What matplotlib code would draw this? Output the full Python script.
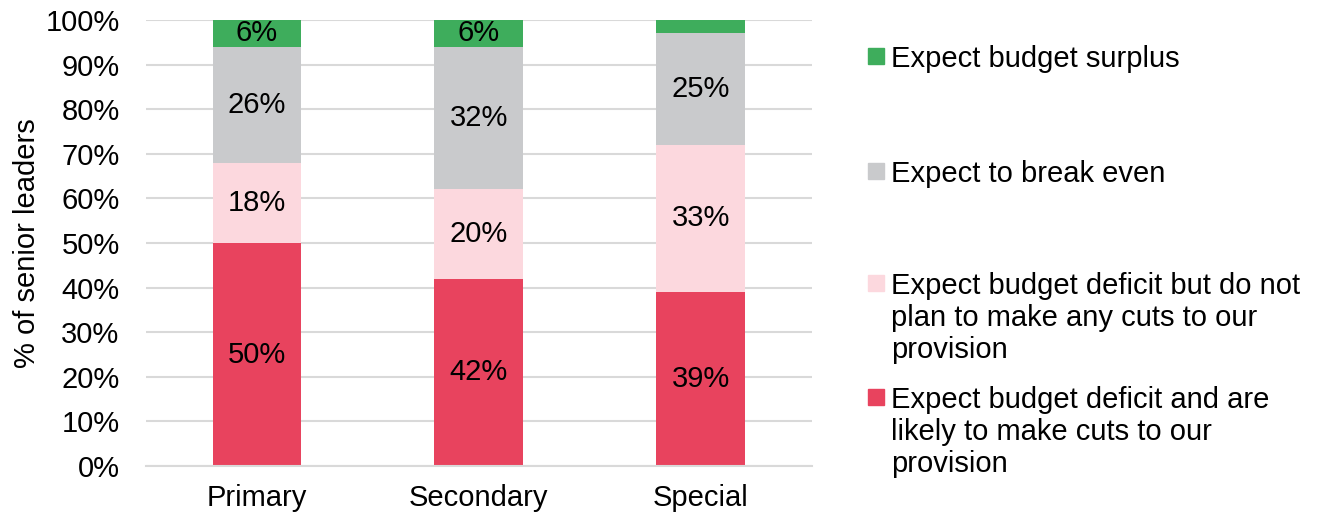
import numpy as np
import matplotlib.pyplot as plt
from matplotlib.patches import Rectangle

plt.rcParams['font.family'] = ['Liberation Sans', 'DejaVu Sans']

categories = ["Primary", "Secondary", "Special"]
series_names = [
    "Expect budget deficit and are\nlikely to make cuts to our\nprovision",
    "Expect budget deficit but do not\nplan to make any cuts to our\nprovision",
    "Expect to break even",
    "Expect budget surplus",
]
deficit_cuts = [50, 42, 39]
deficit_no_cuts = [18, 20, 33]
break_even = [26, 32, 25]
surplus = [6, 6, 3]
colors = ["#E8435E", "#FCD8DE", "#C9CACC", "#3EAD5C"]

series = [deficit_cuts, deficit_no_cuts, break_even, surplus]
FS = 21

fig = plt.figure(figsize=(13.21, 5.17), dpi=100)
ax = fig.add_axes([0.1105, 0.0986, 0.504, 0.8627])

x = np.arange(len(categories))
bottom = np.zeros(len(categories))
for vals, col in zip(series, colors):
    vals = np.array(vals, dtype=float)
    ax.bar(x, vals, 0.4, bottom=bottom, color=col, zorder=2)
    for xi, b, v in zip(x, bottom, vals):
        # small segments are left without a label
        if v >= 5:
            ax.text(xi, b + v / 2, f"{v:.0f}%", ha="center", va="center",
                    fontsize=FS, color="black", zorder=3)
    bottom += vals

ax.set_xlim(-0.5, 2.5)
ax.set_ylim(0, 100)
ax.set_yticks(np.arange(0, 101, 10))
ax.set_yticklabels([f"{t}%" for t in range(0, 101, 10)])
ax.set_xticks(x)
ax.set_xticklabels(categories)
ax.tick_params(axis="both", length=0, labelsize=FS)
ax.tick_params(axis="y", pad=19)
ax.tick_params(axis="x", pad=13)
ax.yaxis.grid(True, color="#D9D9D9", linewidth=1.5, zorder=0)
for s in ["top", "right", "left"]:
    ax.spines[s].set_visible(False)
ax.spines["bottom"].set_color("#D9D9D9")
ax.spines["bottom"].set_linewidth(1.5)
ax.set_ylabel("% of senior leaders", fontsize=FS, labelpad=3)

# legend drawn by hand, top entry first
W, H = 1321.0, 517.0
legend_y = [56, 171, 283, 397]
for name, col, yy in zip(series_names[::-1], colors[::-1], legend_y):
    fig.patches.append(Rectangle((868 / W, 1 - (yy + 8) / H), 16 / W, 16 / H,
                                 transform=fig.transFigure, color=col))
    fig.text(891 / W, 1 - (yy - 11) / H, name, fontsize=FS, va="top", ha="left",
             linespacing=1.19)

fig.savefig("out.png", dpi=100)
